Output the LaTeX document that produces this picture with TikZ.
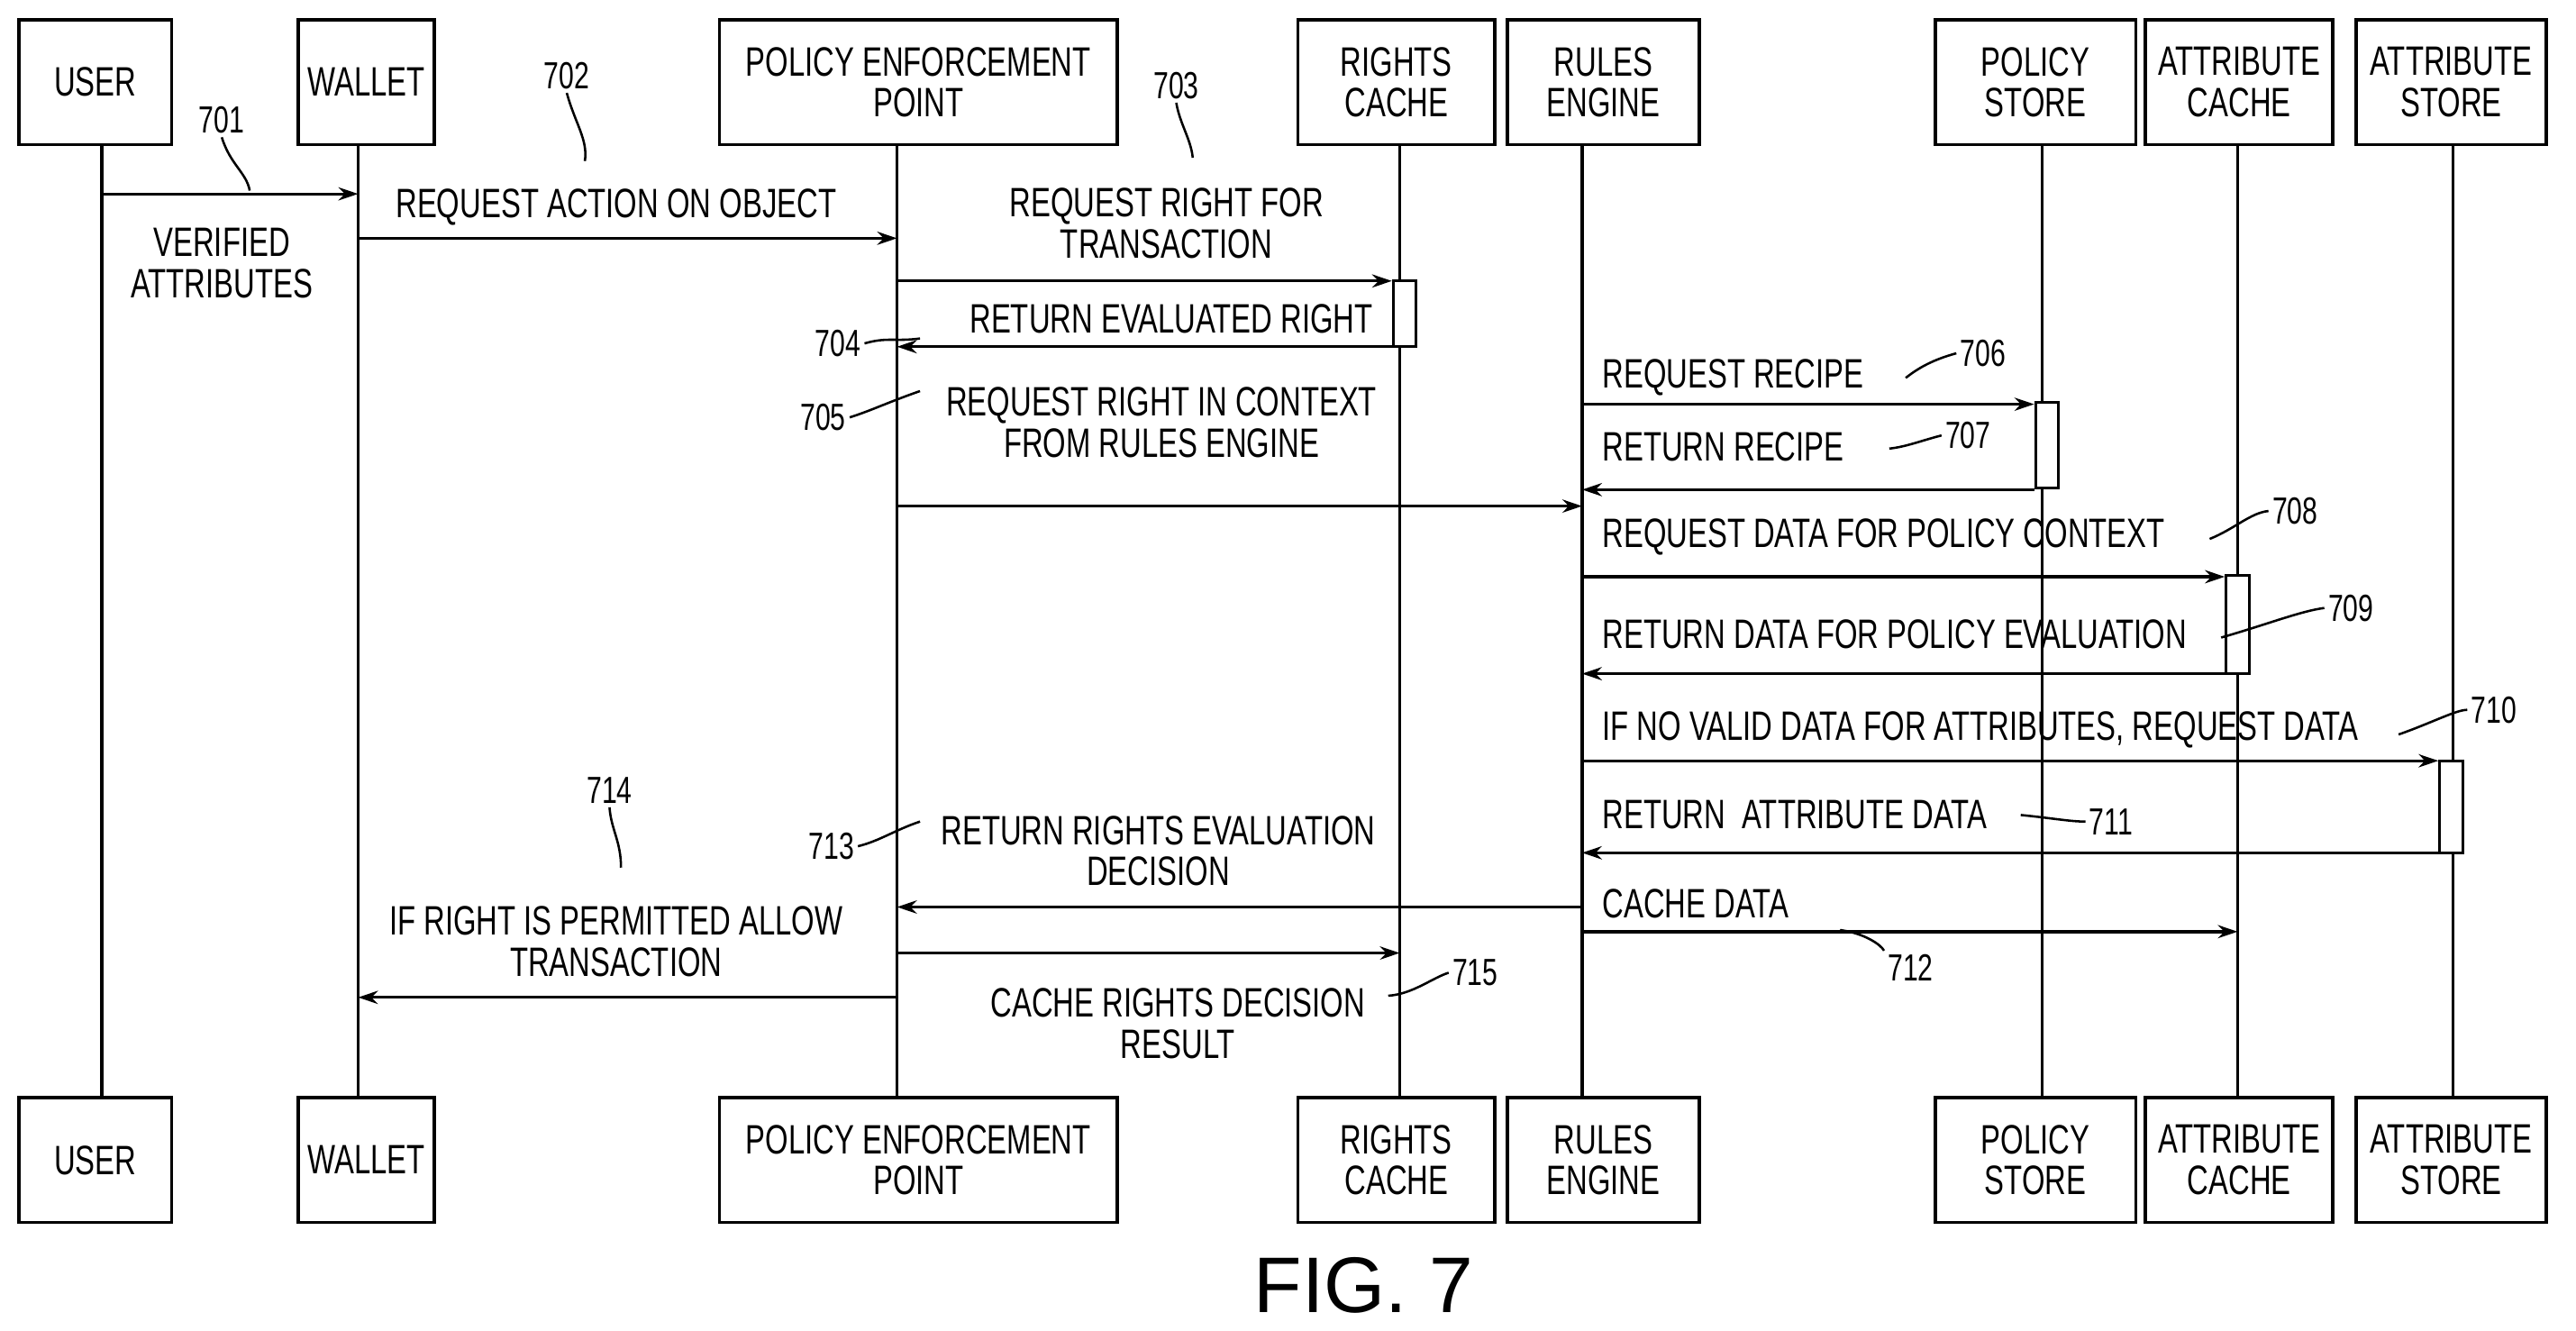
\documentclass[tikz,border=0pt]{standalone}
\usepackage{fontspec}
\setmainfont{Liberation Sans}[FakeStretch=0.72]
\usetikzlibrary{arrows.meta}
\begin{document}
\begin{tikzpicture}[x=0.5pt,y=-0.5pt,
  box/.style={draw,line width=1pt,minimum height=38pt,align=center,inner sep=2pt,font=\fontsize{12.5}{12.5}\selectfont},
  lbl/.style={align=center,font=\fontsize{12.5}{12.5}\selectfont,inner sep=1pt},
  num/.style={font=\fontsize{11.5}{12}\selectfont,inner sep=1pt},
  life/.style={line width=0.9pt},
  msg/.style={line width=0.9pt,-{Stealth[length=6pt,width=4pt,fill=gray]}},
  act/.style={draw,line width=0.8pt,fill=white},
  lead/.style={line width=0.7pt}]
\useasboundingbox (0,0) rectangle (1568,810);
% top boxes
\foreach \n/\x/\w/\t in {U/58/93/USER,W/223/83/WALLET,P/559/242/{POLICY ENFORCEMENT\\POINT},R/850/120/{RIGHTS\\CACHE},E/976/117/{RULES\\ENGINE},S/1239/122/{POLICY\\STORE},A/1363/114/{ATTRIBUTE\\CACHE},T/1492/116/{ATTRIBUTE\\STORE}}{
  \node[box,minimum width=\w*0.5pt] (t\n) at (\x,50) {\t};
  \node[box,minimum width=\w*0.5pt] (b\n) at (\x,706) {\t};
}
% lifelines at actual x
\coordinate (xU) at (62,0); \coordinate (xW) at (218,0); \coordinate (xP) at (546,0);
\coordinate (xR) at (852,0); \coordinate (xE) at (963,0); \coordinate (xS) at (1243,0);
\coordinate (xA) at (1362,0); \coordinate (xT) at (1493,0);
\foreach \n in {U,W,P,R,E,S,A,T}{\draw[life] (x\n |- tU.south) -- (x\n |- bU.north);}
% activations
\node[act,minimum width=7pt,minimum height=20pt,inner sep=0pt] (aR) at (855,191) {};
\node[act,minimum width=7pt,minimum height=26pt,inner sep=0pt] (aS) at (1246,271) {};
\node[act,minimum width=7pt,minimum height=30pt,inner sep=0pt] (aA) at (1362,380) {};
\node[act,minimum width=7pt,minimum height=28pt,inner sep=0pt] (aT) at (1492,491) {};
% messages
\draw[msg] (xU |- 0,118) -- (xW |- 0,118);
\node[lbl] (l701) at (135,160) {VERIFIED\\ATTRIBUTES};
\draw[msg] (xW |- 0,145) -- (xP |- 0,145);
\node[lbl] (l702) at (375,126) {REQUEST ACTION ON OBJECT};
\draw[msg] (xP |- 0,171) -- (aR.west |- 0,171);
\node[lbl] (l703) at (710,136) {REQUEST RIGHT FOR\\TRANSACTION};
\draw[msg] (aR.west |- 0,211) -- (xP |- 0,211);
\node[lbl] (l704) at (713,194) {RETURN EVALUATED RIGHT};
\node[lbl] (l705) at (707,257) {REQUEST RIGHT IN CONTEXT\\FROM RULES ENGINE};
\draw[msg] (xP |- 0,308) -- (xE |- 0,308);
\draw[msg] (xE |- 0,246) -- (aS.west |- 0,246);
\node[lbl,anchor=west] (l706) at (973,230) {REQUEST RECIPE};
\draw[msg] (aS.west |- 0,298) -- (xE |- 0,298);
\node[lbl,anchor=west] (l707) at (973,272) {RETURN RECIPE};
\draw[msg] (xE |- 0,351) -- (aA.west |- 0,351);
\node[lbl,anchor=west] (l708) at (973,327) {REQUEST DATA FOR POLICY CONTEXT};
\draw[msg] (aA.west |- 0,410) -- (xE |- 0,410);
\node[lbl,anchor=west] (l709) at (973,386) {RETURN DATA FOR POLICY EVALUATION};
\draw[msg] (xE |- 0,463) -- (aT.west |- 0,463);
\node[lbl,anchor=west] (l710) at (973,444) {IF NO VALID DATA FOR ATTRIBUTES, REQUEST DATA};
\draw[msg] (aT.west |- 0,519) -- (xE |- 0,519);
\node[lbl,anchor=west] (l711) at (973,496) {RETURN\ \ ATTRIBUTE DATA};
\draw[msg] (xE |- 0,552) -- (xP |- 0,552);
\node[lbl] (l713) at (705,518) {RETURN RIGHTS EVALUATION\\DECISION};
\draw[msg] (xE |- 0,567) -- (xA |- 0,567);
\node[lbl,anchor=west] (l712) at (973,550) {CACHE DATA};
\draw[msg] (xP |- 0,580) -- (xR |- 0,580);
\node[lbl] (l715) at (717,623) {CACHE RIGHTS DECISION\\RESULT};
\draw[msg] (xP |- 0,607) -- (xW |- 0,607);
\node[lbl] (l714) at (375,573) {IF RIGHT IS PERMITTED ALLOW\\TRANSACTION};
% reference numerals
\node[num] (n701) at (135,73) {701};
\node[num] (n702) at (345,46) {702};
\node[num] (n703) at (716,52) {703};
\node[num] (n704) at (510,209) {704};
\node[num] (n705) at (501,254) {705};
\node[num] (n706) at (1207,215) {706};
\node[num] (n707) at (1198,265) {707};
\node[num] (n708) at (1397,311) {708};
\node[num] (n709) at (1431,370) {709};
\node[num] (n710) at (1518,432) {710};
\node[num] (n711) at (1285,500) {711};
\node[num] (n712) at (1163,589) {712};
\node[num] (n713) at (506,515) {713};
\node[num] (n714) at (371,481) {714};
\node[num] (n715) at (898,592) {715};
\draw[lead] (n701.south) .. controls (140,100) and (150,105) .. (152,116);
\draw[lead] (n702.south) .. controls (350,75) and (358,85) .. (356,98);
\draw[lead] (n703.south) .. controls (718,75) and (725,85) .. (726,96);
\draw[lead] (n704.east) .. controls (540,205) and (545,208) .. (560,206);
\draw[lead] (n705.east) .. controls (530,250) and (540,245) .. (560,238);
\draw[lead] (n706.west) .. controls (1180,218) and (1170,222) .. (1160,230);
\draw[lead] (n707.west) .. controls (1170,268) and (1160,272) .. (1150,273);
\draw[lead] (n708.west) .. controls (1370,312) and (1360,322) .. (1345,328);
\draw[lead] (n709.west) .. controls (1400,372) and (1380,380) .. (1352,388);
\draw[lead] (n710.west) .. controls (1495,432) and (1480,440) .. (1460,447);
\draw[lead] (n711.west) .. controls (1260,500) and (1250,498) .. (1230,496);
\draw[lead] (n712.north west) .. controls (1145,575) and (1135,568) .. (1120,566);
\draw[lead] (n713.east) .. controls (535,512) and (545,505) .. (560,500);
\draw[lead] (n714.south) .. controls (372,505) and (378,512) .. (378,528);
\draw[lead] (n715.west) .. controls (872,595) and (860,605) .. (845,606);
\node[font=\fontspec{Liberation Sans}\fontsize{24}{24}\selectfont] (fig) at (830,782) {FIG. 7};
\end{tikzpicture}
\end{document}
